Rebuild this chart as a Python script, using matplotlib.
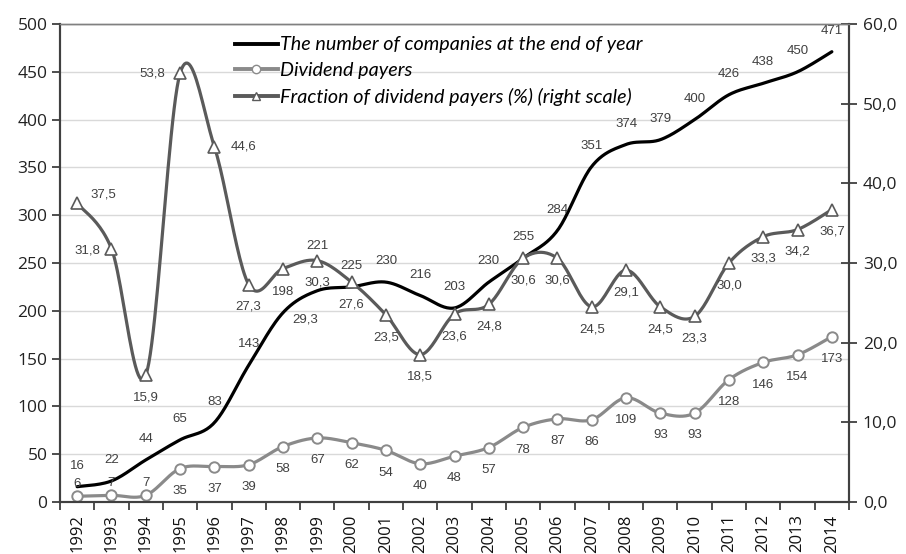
import numpy as np
import matplotlib
matplotlib.use("Agg")
import matplotlib.pyplot as plt
from matplotlib.lines import Line2D

years = [str(y) for y in range(1992, 2015)]
companies = [16, 22, 44, 65, 83, 143, 198, 221, 225, 230, 216, 203, 230, 255, 284,
             351, 374, 379, 400, 426, 438, 450, 471]
payers = [6, 7, 7, 35, 37, 39, 58, 67, 62, 54, 40, 48, 57, 78, 87, 86, 109, 93, 93,
          128, 146, 154, 173]
fraction = [37.5, 31.8, 15.9, 53.8, 44.6, 27.3, 29.3, 30.3, 27.6, 23.5, 18.5, 23.6,
            24.8, 30.6, 30.6, 24.5, 29.1, 24.5, 23.3, 30.0, 33.3, 34.2, 36.7]
left_ticks = [0, 50, 100, 150, 200, 250, 300, 350, 400, 450, 500]
right_ticks = [0, 10, 20, 30, 40, 50, 60]
legend_labels = ["The number of companies at the end of year",
                 "Dividend payers",
                 "Fraction of dividend payers (%) (right scale)"]


def smooth(xs, ys, n=24):
    pts = np.column_stack([xs, ys]).astype(float)
    P = np.vstack([pts[0], pts, pts[-1]])
    out = []
    t = np.linspace(0, 1, n)[:, None]
    for i in range(len(pts) - 1):
        p0, p1, p2, p3 = P[i], P[i + 1], P[i + 2], P[i + 3]
        c1 = p1 + (p2 - p0) / 6.0
        c2 = p2 - (p3 - p1) / 6.0
        seg = ((1 - t) ** 3) * p1 + 3 * ((1 - t) ** 2) * t * c1 + 3 * (1 - t) * t ** 2 * c2 + t ** 3 * p2
        out.append(seg if i == 0 else seg[1:])
    arr = np.vstack(out)
    return arr[:, 0], arr[:, 1]


plt.rcParams['font.family'] = ['Open Sans', 'DejaVu Sans']
fig = plt.figure(figsize=(9.06, 5.54), dpi=100)
ax = fig.add_axes([60 / 906, 1 - 502 / 554, (849 - 60) / 906, (502 - 24) / 554])
ax2 = ax.twinx()

x = np.arange(len(years))
black = '#000000'
gray1 = '#8a8a8a'
gray2 = '#5a5a5a'
lab_col = '#404040'
lab_font = dict(fontsize=9.5, color=lab_col, family='Liberation Sans')

# companies
sx, sy = smooth(x, companies)
ax.plot(sx, sy, color=black, lw=2.3, zorder=4, solid_capstyle='round')
# payers
sx, sy = smooth(x, payers)
ax.plot(sx, sy, color=gray1, lw=2.3, zorder=3)
ax.plot(x, payers, ls='none', marker='o', ms=7.5, mfc='white', mec=gray1, mew=1.4, zorder=5)
# fraction
sx, sy = smooth(x, fraction)
ax2.plot(sx, sy, color=gray2, lw=2.3, zorder=3)
ax2.plot(x, fraction, ls='none', marker='^', ms=8, mfc='white', mec=gray2, mew=1.2, zorder=5)

# labels
for i, v in enumerate(companies):
    dy = 32 if years[i] == '1999' else 15
    ax.annotate(str(v), (x[i], v), xytext=(0, dy), textcoords='offset points',
                ha='center', va='center', zorder=6, **lab_font)
for i, v in enumerate(payers):
    dy = 9 if i < 3 else -16
    ax.annotate(str(v), (x[i], v), xytext=(0, dy), textcoords='offset points',
                ha='center', va='center', zorder=6, **lab_font)
frac_off = {'1992': (19, 6), '1993': (-17, -1), '1995': (-20, 0), '1996': (21, 0),
            '1998': (16, -37)}
for i, v in enumerate(fraction):
    dx, dy = frac_off.get(years[i], (0, -16))
    ax2.annotate(f"{v:.1f}".replace('.', ','), (x[i], v), xytext=(dx, dy),
                 textcoords='offset points', ha='center', va='center', zorder=6, **lab_font)

ax.set_xlim(-0.5, len(years) - 0.5)
ax.set_ylim(0, 500)
ax2.set_ylim(0, 60)
ax.set_yticks(left_ticks)
ax.set_yticklabels([str(t) for t in left_ticks])
ax2.set_yticks(right_ticks)
ax2.set_yticklabels([f"{t:.1f}".replace('.', ',') for t in right_ticks])
ax.set_xticks(x)
ax.set_xticklabels(years, rotation=90)
ax.set_xticks(np.arange(len(years) + 1) - 0.5, minor=True)
ax.tick_params(axis='x', which='major', length=0, pad=9, labelsize=12, colors='#111111')
ax.tick_params(axis='x', which='minor', length=6, width=1.3, color='#404040', direction='out')
ax.tick_params(axis='y', length=6, width=1.3, color='#404040', labelsize=12.5, pad=3,
               labelcolor='#222222')
ax2.tick_params(axis='y', length=12, width=1.3, color='#404040', direction='inout',
                labelsize=12.5, pad=4, labelcolor='#222222')

ax.grid(axis='y', color='#d9d9d9', lw=1)
ax.set_axisbelow(True)
for a in (ax, ax2):
    for s in ('left', 'right', 'bottom'):
        a.spines[s].set_color('#404040')
        a.spines[s].set_linewidth(1.5)
    a.spines['top'].set_color('#808080')
    a.spines['top'].set_linewidth(1.0)
ax.patch.set_visible(False)

handles = [Line2D([], [], color=black, lw=2.8),
           Line2D([], [], color=gray1, lw=2.8, marker='o', ms=6, mfc='white', mec=gray1),
           Line2D([], [], color=gray2, lw=2.8, marker='^', ms=6, mfc='white', mec=gray2)]
leg = ax2.legend(handles, legend_labels, loc='upper left', bbox_to_anchor=(0.222, 0.974),
                 frameon=False, handlelength=2.15, handletextpad=0.1, labelspacing=0.45,
                 prop=dict(family='Lato', style='italic', size=14.2), borderaxespad=0,
                 borderpad=0)

fig.savefig('out.png', dpi=100)
